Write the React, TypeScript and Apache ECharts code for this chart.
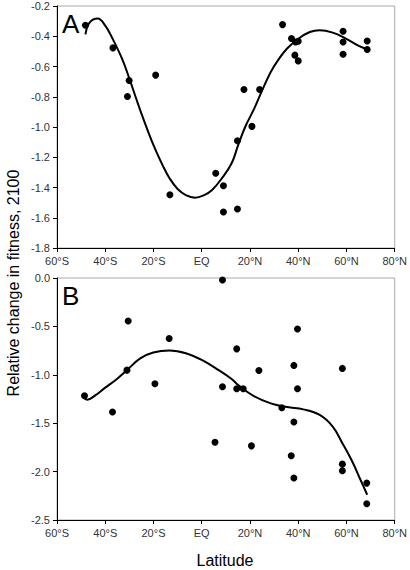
import React, { useEffect, useRef } from "react";
import * as echarts from "echarts";

// Panel A: observed points
const latA = [-48.2, -36.8, -30.1, -30.8, -19.1, -13.2, 5.8, 9.0, 9.0, 14.8, 14.8, 17.5, 20.8, 24.0, 33.5, 37.2, 38.9, 40.0, 38.6, 40.0, 58.6, 58.6, 58.6, 68.6, 68.6];
const fitA = [-0.327, -0.477, -0.692, -0.798, -0.657, -1.448, -1.306, -1.388, -1.562, -1.542, -1.091, -0.752, -0.996, -0.752, -0.323, -0.415, -0.438, -0.433, -0.525, -0.563, -0.367, -0.438, -0.519, -0.431, -0.488];
// Panel A: fitted curve
const curveLatA = [-48.2, -46.5, -43.1, -40, -37, -33, -30, -27, -24.8, -20, -16, -13.3, -10, -6.6, -2.8, 1, 4.3, 8.3, 12.4, 15.1, 18, 21.8, 25, 28.6, 32, 35.4, 40.2, 44.8, 48.9, 54.3, 59.7, 65.1, 68.6];
const curveValA = [-0.387, -0.31, -0.283, -0.33, -0.415, -0.55, -0.68, -0.82, -0.92, -1.12, -1.26, -1.34, -1.41, -1.45, -1.467, -1.45, -1.416, -1.34, -1.24, -1.12, -1.0, -0.877, -0.76, -0.636, -0.55, -0.481, -0.415, -0.372, -0.36, -0.376, -0.415, -0.464, -0.486];

// Panel B: observed points
const latB = [-48.6, -37.0, -30.5, -31.0, -19.4, -13.5, 5.5, 8.6, 8.6, 14.5, 14.5, 17.2, 20.6, 23.7, 33.2, 38.2, 39.7, 39.7, 38.2, 37.1, 38.2, 58.3, 58.3, 58.3, 68.4, 68.4];
const fitB = [-1.216, -1.384, -0.444, -0.952, -1.093, -0.625, -1.696, -0.02, -1.123, -0.732, -1.144, -1.144, -1.734, -0.955, -1.34, -0.903, -0.526, -1.144, -1.487, -1.837, -2.067, -0.934, -1.923, -1.992, -2.119, -2.332];
// Panel B: fitted curve
const curveLatB = [-48.6, -47.5, -44, -40.4, -35, -31, -25.5, -20.1, -13.3, -6.6, 0.2, 7.0, 12.4, 15.1, 21.8, 28.6, 35.4, 42.1, 48.9, 54.3, 58.3, 62.4, 65.8, 68.6];
const curveValB = [-1.243, -1.257, -1.21, -1.14, -1.04, -0.952, -0.831, -0.77, -0.749, -0.777, -0.849, -0.952, -1.044, -1.106, -1.223, -1.295, -1.333, -1.357, -1.415, -1.535, -1.706, -1.896, -2.084, -2.239];

const panelLabels = ["A", "B"];
const yTitle = "Relative change in fitness, 2100";
const xTitle = "Latitude";

const latLabel = (v: number) => {
  if (v === 0) return "EQ";
  return Math.abs(v) + "°" + (v < 0 ? "S" : "N");
};

const FONT = "'Liberation Sans', Arial, sans-serif";

export default function App() {
  const ref = useRef<HTMLDivElement>(null);
  useEffect(() => {
    if (!ref.current) return;
    const chart = echarts.init(ref.current, null, { renderer: "svg" });
    const zip = (xs: number[], ys: number[]) => xs.map((x, i) => [x, ys[i]]);
    const xAxisBase = (gridIndex: number) => ({
      type: "value" as const,
      gridIndex,
      min: -60,
      max: 80,
      interval: 20,
      axisLine: { show: true, onZero: false, lineStyle: { color: "#000", width: 1 } },
      axisTick: { show: true, inside: false, length: 4, lineStyle: { color: "#000" } },
      axisLabel: { formatter: latLabel, color: "#333", fontSize: 11, fontFamily: FONT, margin: 7 },
      splitLine: { show: false },
    });
    const yAxisBase = (gridIndex: number, min: number, max: number, interval: number, dec: number) => ({
      type: "value" as const,
      gridIndex,
      min,
      max,
      interval,
      axisLine: { show: true, onZero: false, lineStyle: { color: "#000", width: 1 } },
      axisTick: { show: true, inside: false, length: 4, lineStyle: { color: "#000" } },
      axisLabel: {
        formatter: (v: number) => v.toFixed(dec),
        color: "#333",
        fontSize: 11,
        fontFamily: FONT,
        margin: 7,
      },
      splitLine: { show: false },
    });
    const scatter = (idx: number, data: number[][]) => ({
      type: "scatter" as const,
      xAxisIndex: idx,
      yAxisIndex: idx,
      data,
      symbol: "circle",
      symbolSize: 7,
      itemStyle: { color: "#000", opacity: 1 },
      z: 3,
    });
    const line = (idx: number, data: number[][]) => ({
      type: "line" as const,
      xAxisIndex: idx,
      yAxisIndex: idx,
      data,
      smooth: 0.4,
      showSymbol: false,
      lineStyle: { color: "#000", width: 2 },
      z: 2,
    });
    chart.setOption({
      animation: false,
      backgroundColor: "#fff",
      grid: [
        { left: 57, top: 6, width: 345, height: 242, show: true, borderColor: "#aaa", borderWidth: 1, backgroundColor: "transparent" },
        { left: 57, top: 278, width: 345, height: 242, show: true, borderColor: "#aaa", borderWidth: 1, backgroundColor: "transparent" },
      ],
      xAxis: [xAxisBase(0), xAxisBase(1)],
      yAxis: [yAxisBase(0, -1.8, -0.2, 0.2, 1), yAxisBase(1, -2.5, 0, 0.5, 1)],
      series: [
        line(0, zip(curveLatA, curveValA)),
        scatter(0, zip(latA, fitA)),
        line(1, zip(curveLatB, curveValB)),
        scatter(1, zip(latB, fitB)),
      ],
      graphic: [
        { type: "text", left: 62, top: 11, style: { text: panelLabels[0], fontSize: 26, fontFamily: FONT, fill: "#000" } },
        { type: "text", left: 62, top: 283, style: { text: panelLabels[1], fontSize: 26, fontFamily: FONT, fill: "#000" } },
        {
          type: "text",
          x: 13,
          y: 283,
          rotation: Math.PI / 2,
          style: { text: yTitle, fontSize: 16, fontFamily: FONT, fill: "#000", align: "center", verticalAlign: "middle" },
        },
        {
          type: "text",
          x: 225,
          y: 560,
          style: { text: xTitle, fontSize: 16, fontFamily: FONT, fill: "#000", align: "center", verticalAlign: "middle" },
        },
      ],
    });
    return () => chart.dispose();
  }, []);
  return <div ref={ref} style={{ position: "fixed", left: 0, top: 0, width: 410, height: 570 }} />;
}
